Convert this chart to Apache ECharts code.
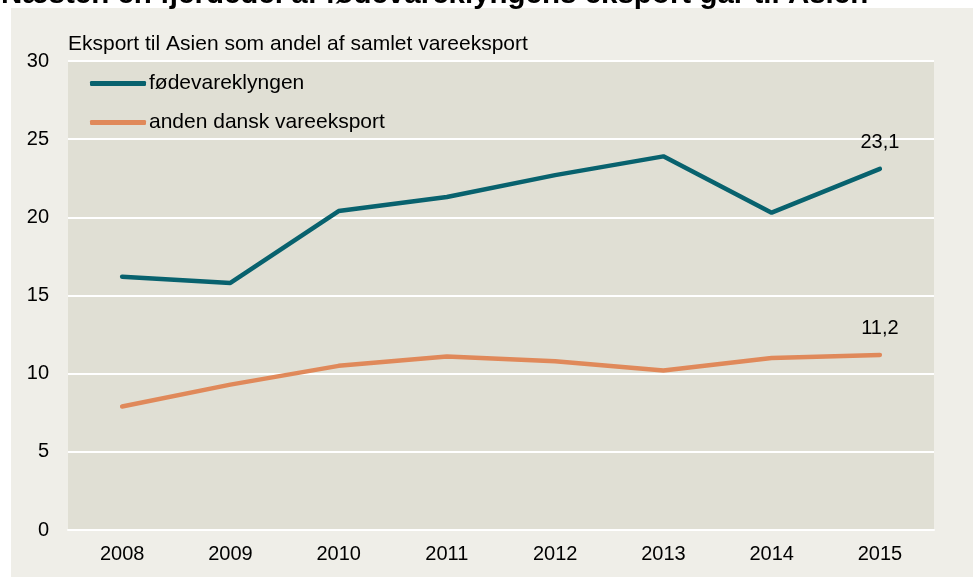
<!DOCTYPE html>
<html>
<head>
<meta charset="utf-8">
<script src="https://cdn.jsdelivr.net/npm/echarts@6/dist/echarts.min.js"></script>
<style>
	html, body { margin: 0; padding: 0; background: #fff; }
	#chart { width: 973px; height: 577px; }
</style>
</head>
<body>
<div id="chart"></div>
<script>
//årstal på x-aksen
var years = ['2008', '2009', '2010', '2011', '2012', '2013', '2014', '2015'];
//fødevareklyngen, andel i pct.
var foedevarer = [16.2, 15.8, 20.4, 21.3, 22.7, 23.9, 20.3, 23.1];
//anden dansk vareeksport, andel i pct.
var andenEksport = [7.9, 9.3, 10.5, 11.1, 10.8, 10.2, 11.0, 11.2];
//tekster
var titleText = 'Næsten en fjerdedel af fødevareklyngens eksport går til Asien';
var subText = 'Eksport til Asien som andel af samlet vareeksport';
var fontName = 'Liberation Sans, Arial, sans-serif';

//kun sidste punkt får en værdi-label
function withEndLabel(values) {
	return values.map(function(v, i) {
		if (i == values.length - 1) {
			return {
				value: v,
				label: {
					show: true,
					position: 'top',
					distance: 16,
					color: '#000',
					fontSize: 20,
					fontFamily: fontName,
					formatter: function(p) {
						return String(p.value).replace('.', ',');
					}
				}
			};
		}
		return v;
	});
}

var chart = echarts.init(document.getElementById('chart'), null, { renderer: 'canvas' });
chart.setOption({
	backgroundColor: '#ffffff',
	animation: false,
	textStyle: { fontFamily: fontName },
	graphic: [{
		type: 'rect',
		z: -10,
		shape: { x: 11, y: 8, width: 962, height: 569 },
		style: { fill: '#efeee8' }
	}],
	title: [{
		text: titleText,
		left: -4,
		top: -25,
		textStyle: { fontSize: 29.5, fontWeight: 'bold', color: '#000', fontFamily: fontName }
	}, {
		text: subText,
		left: 63,
		top: 29,
		textStyle: { fontSize: 21, fontWeight: 'normal', color: '#000', fontFamily: fontName }
	}],
	legend: {
		orient: 'vertical',
		left: 85,
		top: 68,
		itemGap: 18,
		itemWidth: 56,
		itemHeight: 5,
		icon: 'roundRect',
		textStyle: { fontSize: 21, color: '#000', padding: [0, 0, 0, -2] },
		data: ['fødevareklyngen', 'anden dansk vareeksport']
	},
	grid: {
		left: 68,
		right: 39,
		top: 61,
		bottom: 47,
		show: true,
		backgroundColor: '#e0dfd4',
		borderWidth: 0
	},
	xAxis: {
		type: 'category',
		data: years,
		boundaryGap: true,
		axisLine: { show: true, lineStyle: { color: '#ffffff', width: 2 } },
		axisTick: { show: false },
		axisLabel: { color: '#000', fontSize: 20, margin: 14 }
	},
	yAxis: {
		type: 'value',
		min: 0,
		max: 30,
		interval: 5,
		axisLine: { show: false },
		axisTick: { show: false },
		axisLabel: { color: '#000', fontSize: 20, margin: 19 },
		splitLine: { lineStyle: { color: '#ffffff', width: 2 } }
	},
	series: [{
		name: 'fødevareklyngen',
		type: 'line',
		data: withEndLabel(foedevarer),
		symbol: 'circle',
		symbolSize: 0.1,
		color: '#08626e',
		lineStyle: { width: 4.5, color: '#08626e', cap: 'round' }
	}, {
		name: 'anden dansk vareeksport',
		type: 'line',
		data: withEndLabel(andenEksport),
		symbol: 'circle',
		symbolSize: 0.1,
		color: '#e0895a',
		lineStyle: { width: 4.5, color: '#e0895a', cap: 'round' }
	}]
});
</script>
</body>
</html>
